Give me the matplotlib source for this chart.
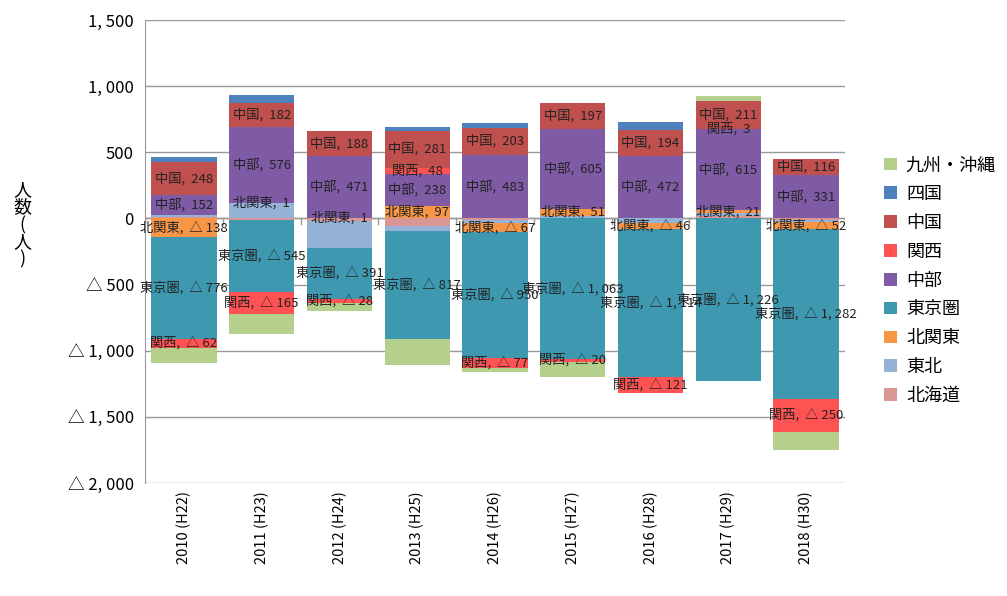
import matplotlib
matplotlib.use("Agg")
import matplotlib.pyplot as plt
import numpy as np

plt.rcParams['font.family'] = ['Noto Sans CJK JP', 'DejaVu Sans']

years = ["2010 (H22)", "2011 (H23)", "2012 (H24)", "2013 (H25)", "2014 (H26)",
         "2015 (H27)", "2016 (H28)", "2017 (H29)", "2018 (H30)"]
# stacking order (closest to zero first)
series = ["北海道", "東北", "北関東", "東京圏", "中部", "関西", "中国", "四国", "九州・沖縄"]
hokkaido = [10, -10, -20, -60, -15, 0, 0, 20, -10]
tohoku   = [15, 114, -200, -38, -20, 20, -35, 20, -20]
kitakanto = [-138, 1, 1, 97, -67, 51, -46, 21, -52]
tokyo    = [-776, -545, -391, -817, -950, -1063, -1114, -1226, -1282]
chubu    = [152, 576, 471, 238, 483, 605, 472, 615, 331]
kansai   = [-62, -165, -28, 48, -77, -20, -121, 3, -250]
chugoku  = [248, 182, 188, 281, 203, 197, 194, 211, 116]
shikoku  = [38, 58, 0, 30, 35, 0, 60, 0, 0]
kyushu   = [-120, -150, -60, -190, -30, -115, 5, 35, -140]
data = [hokkaido, tohoku, kitakanto, tokyo, chubu, kansai, chugoku, shikoku, kyushu]
colors = ["#d99694", "#95b3d7", "#f79646", "#3d98b0", "#7f5ba6", "#ff5252",
          "#c0504d", "#4f81bd", "#b5cf8d"]
labeled = {"北関東", "東京圏", "中部", "関西", "中国"}

fig = plt.figure(figsize=(10.07, 5.96), dpi=100)
ax = fig.add_axes([145/1007, 1-483/596, 700/1007, 463/596])
x = np.arange(len(years))
w = 0.84
pos = np.zeros(len(years)); neg = np.zeros(len(years))

def fmt(v):
    s = f"{abs(v):,}".replace(",", ", ")
    return s if v >= 0 else "△ " + s

handles = []
for name, vals, c in zip(series, data, colors):
    vals = np.array(vals, dtype=float)
    bottoms = np.where(vals >= 0, pos, neg)
    h = ax.bar(x, vals, w, bottom=bottoms, color=c, zorder=2, label=name)
    handles.append(h)
    if name in labeled:
        for i, v in enumerate(vals):
            if v != 0:
                ax.text(x[i], bottoms[i] + v/2, f"{name},  {fmt(int(v))}",
                        ha="center", va="center", fontsize=9.5, color="#222222", zorder=3)
    pos = pos + np.where(vals >= 0, vals, 0)
    neg = neg + np.where(vals < 0, vals, 0)

ax.set_ylim(-2000, 1500)
ax.set_xlim(-0.5, len(years)-0.5)
yt = np.arange(-2000, 1501, 500)
ax.set_yticks(yt)
ax.set_yticklabels([fmt(int(v)) for v in yt], fontsize=12)
ax.yaxis.grid(True, color="#999999", linewidth=1, zorder=0)
ax.set_xticks(x)
ax.set_xticklabels(years, rotation=90, fontsize=10.5)
ax.tick_params(axis="x", length=0, pad=6)
ax.tick_params(axis="y", length=0, pad=8)
for s in ["top", "right", "bottom"]:
    ax.spines[s].set_visible(False)
ax.spines["left"].set_color("#999999")
ax.axhline(0, color="#999999", lw=1, zorder=1)
for xi in np.arange(-0.5, len(years)):
    ax.plot([xi, xi], [0, -40], color="#999999", lw=1, zorder=1)

fig.text(22/1007, 1-225/596, "人\n数\n(\n人\n)", ha="center", va="center", fontsize=13, linespacing=0.95)

leg = fig.legend(handles[::-1], series[::-1], loc="upper left",
                 bbox_to_anchor=(868/1007, 1-140/596), frameon=False,
                 fontsize=13, handlelength=0.7, handleheight=0.7,
                 labelspacing=0.6, handletextpad=0.5)

fig.savefig("out.png", dpi=100)
